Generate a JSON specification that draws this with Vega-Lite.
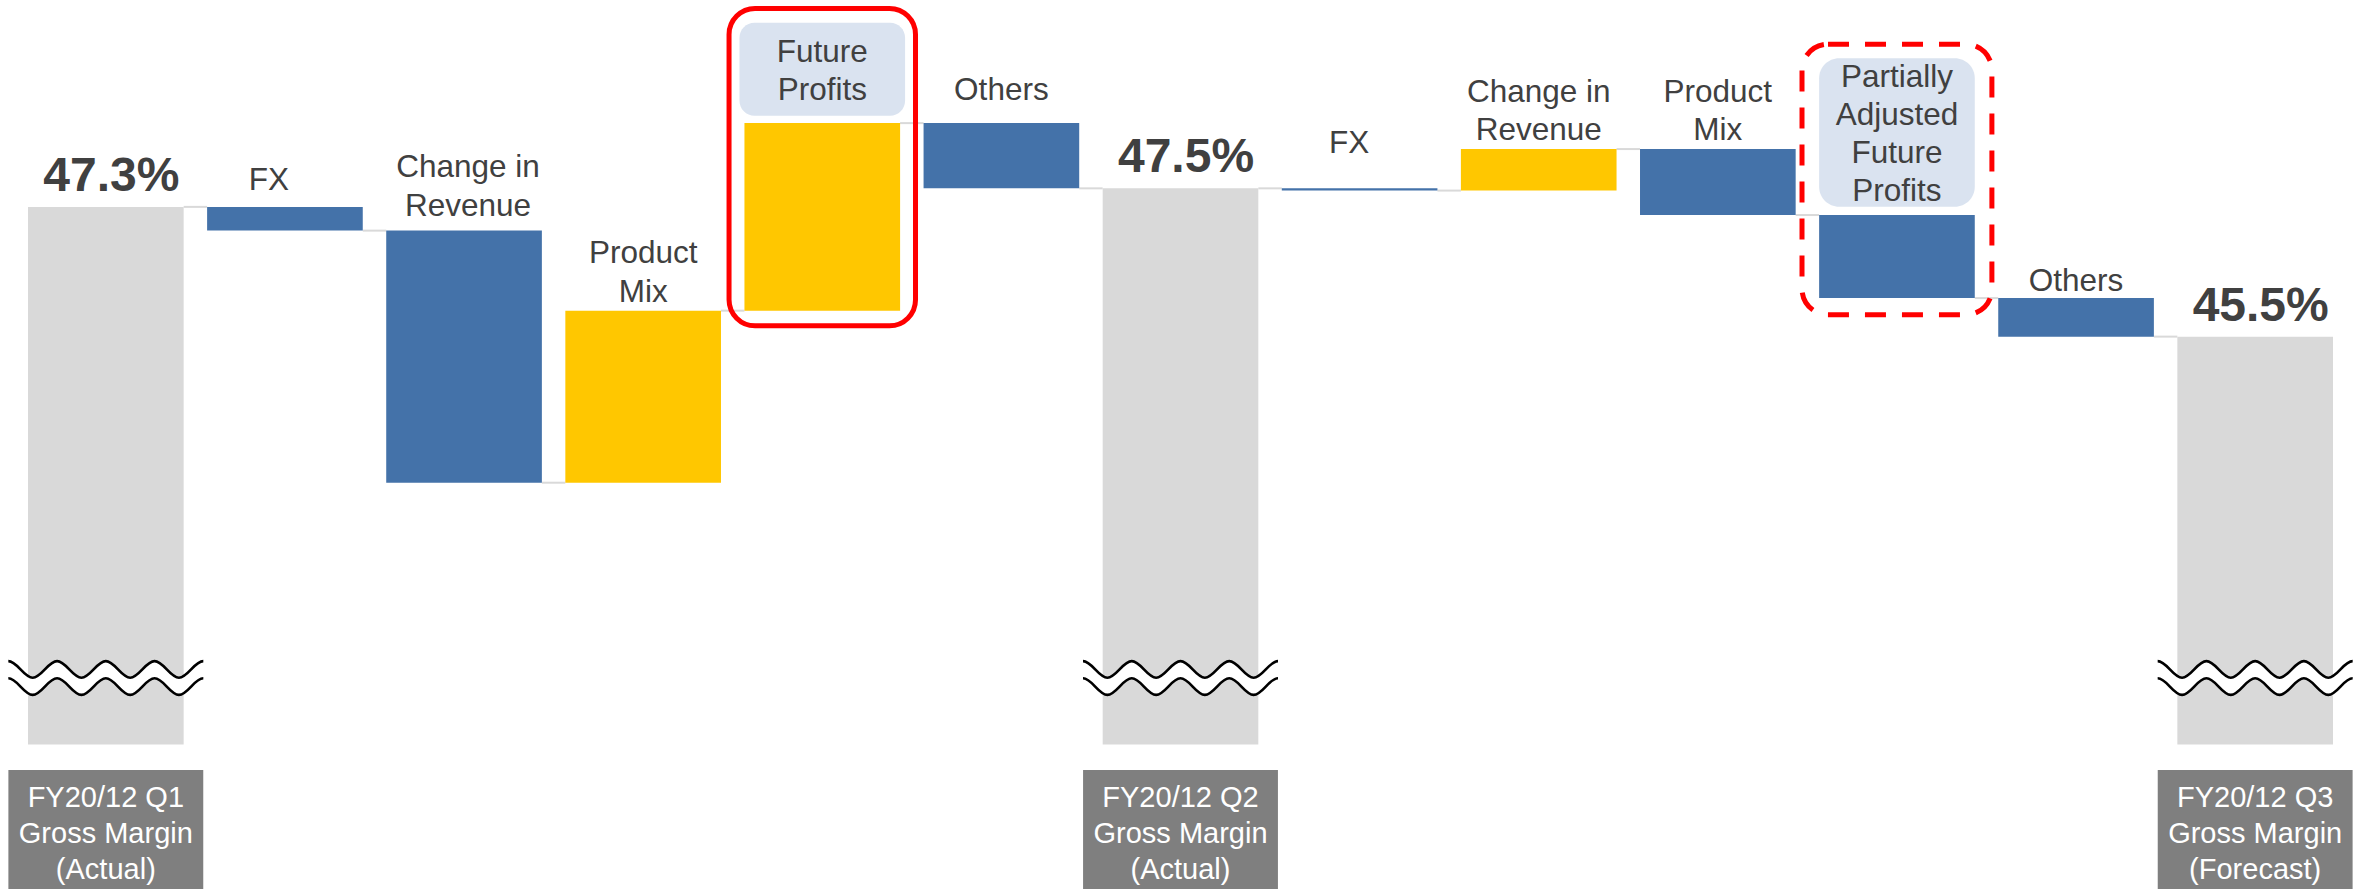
{
  "$schema": "https://vega.github.io/schema/vega-lite/v6.json",
  "width": 2305,
  "height": 886,
  "autosize": {"type": "none"},
  "padding": {"left": 28, "top": 3, "right": 33, "bottom": 0},
  "background": "white",
  "config": {"view": {"stroke": null}, "text": {"font": "Liberation Sans"}},
  "data": {
    "values": [
      {"id": "q1", "name": "FY20/12 Q1\nGross Margin\n(Actual)", "kind": "total", "start": 40, "end": 47.25, "valueLabel": "47.3%", "next": "fx1"},
      {"id": "fx1", "name": "FX", "kind": "down", "start": 47.25, "end": 46.93, "next": "rev1"},
      {"id": "rev1", "name": "Change in\nRevenue", "kind": "down", "start": 46.93, "end": 43.53, "next": "mix1"},
      {"id": "mix1", "name": "Product\nMix", "kind": "up", "start": 43.53, "end": 45.85, "next": "fp"},
      {"id": "fp", "name": "Future\nProfits", "kind": "up", "start": 45.85, "end": 48.38, "next": "oth1"},
      {"id": "oth1", "name": "Others", "kind": "down", "start": 48.38, "end": 47.5, "next": "q2"},
      {"id": "q2", "name": "FY20/12 Q2\nGross Margin\n(Actual)", "kind": "total", "start": 40, "end": 47.5, "valueLabel": "47.5%", "next": "fx2"},
      {"id": "fx2", "name": "FX", "kind": "down", "start": 47.5, "end": 47.47, "next": "rev2"},
      {"id": "rev2", "name": "Change in\nRevenue", "kind": "up", "start": 47.47, "end": 48.03, "next": "mix2"},
      {"id": "mix2", "name": "Product\nMix", "kind": "down", "start": 48.03, "end": 47.14, "next": "pafp"},
      {"id": "pafp", "name": "Partially\nAdjusted\nFuture\nProfits", "kind": "down", "start": 47.14, "end": 46.02, "next": "oth2"},
      {"id": "oth2", "name": "Others", "kind": "down", "start": 46.02, "end": 45.5, "next": "q3"},
      {"id": "q3", "name": "FY20/12 Q3\nGross Margin\n(Forecast)", "kind": "total", "start": 40, "end": 45.5, "valueLabel": "45.5%"}
    ]
  },
  "layer": [
    {
      "transform": [{"filter": "datum.next"}],
      "mark": {"type": "rule", "color": "#D9D9D9", "strokeWidth": 2},
      "encoding": {
        "x": {"field": "id", "type": "nominal", "bandPosition": 1, "scale": {"type": "band", "domain": ["q1","fx1","rev1","mix1","fp","oth1","q2","fx2","rev2","mix2","pafp","oth2","q3"], "paddingInner": 0.131, "paddingOuter": 0}, "axis": null},
        "x2": {"field": "next", "bandPosition": 0},
        "y": {"field": "end", "type": "quantitative", "scale": {"domain": [38.05, 50], "nice": false, "zero": false}, "axis": null}
      }
    },
    {
      "mark": {"type": "bar"},
      "encoding": {
        "x": {"field": "id", "type": "nominal", "scale": {"type": "band", "domain": ["q1","fx1","rev1","mix1","fp","oth1","q2","fx2","rev2","mix2","pafp","oth2","q3"], "paddingInner": 0.131, "paddingOuter": 0}, "axis": null},
        "y": {"field": "start", "type": "quantitative", "scale": {"domain": [38.05, 50], "nice": false, "zero": false}, "axis": null},
        "y2": {"field": "end"},
        "color": {"field": "kind", "type": "nominal", "scale": {"domain": ["total", "up", "down"], "range": ["#D9D9D9", "#FFC700", "#4472A9"]}, "legend": null}
      }
    },
    {
      "transform": [{"filter": "datum.kind == 'total'"}],
      "mark": {"type": "point", "shape": "M -1 -0.173 C -0.909 -0.173 -0.841 -0.003 -0.75 -0.003 C -0.659 -0.003 -0.591 -0.173 -0.5 -0.173 C -0.409 -0.173 -0.341 -0.003 -0.25 -0.003 C -0.159 -0.003 -0.091 -0.173 0 -0.173 C 0.091 -0.173 0.159 -0.003 0.25 -0.003 C 0.341 -0.003 0.409 -0.173 0.5 -0.173 C 0.591 -0.173 0.659 -0.003 0.75 -0.003 C 0.841 -0.003 0.909 -0.173 1 -0.173 L 1 0.003 C 0.909 0.003 0.841 0.173 0.75 0.173 C 0.659 0.173 0.591 0.003 0.5 0.003 C 0.409 0.003 0.341 0.173 0.25 0.173 C 0.159 0.173 0.091 0.003 0 0.003 C -0.091 0.003 -0.159 0.173 -0.25 0.173 C -0.341 0.173 -0.409 0.003 -0.5 0.003 C -0.591 0.003 -0.659 0.173 -0.75 0.173 C -0.841 0.173 -0.909 0.003 -1 0.003 Z", "size": 38025, "filled": true, "color": "#FFFFFF", "opacity": 1, "strokeWidth": 0},
      "encoding": {
        "x": {"field": "id", "type": "nominal", "scale": {"type": "band", "domain": ["q1","fx1","rev1","mix1","fp","oth1","q2","fx2","rev2","mix2","pafp","oth2","q3"], "paddingInner": 0.131, "paddingOuter": 0}, "axis": null},
        "y": {"datum": 40.896, "type": "quantitative", "scale": {"domain": [38.05, 50], "nice": false, "zero": false}, "axis": null}
      }
    },
    {
      "transform": [{"filter": "datum.kind == 'total'"}],
      "mark": {"type": "point", "shape": "M -1 -0.173 C -0.909 -0.173 -0.841 -0.003 -0.75 -0.003 C -0.659 -0.003 -0.591 -0.173 -0.5 -0.173 C -0.409 -0.173 -0.341 -0.003 -0.25 -0.003 C -0.159 -0.003 -0.091 -0.173 0 -0.173 C 0.091 -0.173 0.159 -0.003 0.25 -0.003 C 0.341 -0.003 0.409 -0.173 0.5 -0.173 C 0.591 -0.173 0.659 -0.003 0.75 -0.003 C 0.841 -0.003 0.909 -0.173 1 -0.173 M -1 0.003 C -0.909 0.003 -0.841 0.173 -0.75 0.173 C -0.659 0.173 -0.591 0.003 -0.5 0.003 C -0.409 0.003 -0.341 0.173 -0.25 0.173 C -0.159 0.173 -0.091 0.003 0 0.003 C 0.091 0.003 0.159 0.173 0.25 0.173 C 0.341 0.173 0.409 0.003 0.5 0.003 C 0.591 0.003 0.659 0.173 0.75 0.173 C 0.841 0.173 0.909 0.003 1 0.003", "size": 38025, "filled": false, "color": "#000000", "opacity": 1, "strokeWidth": 2.6},
      "encoding": {
        "x": {"field": "id", "type": "nominal", "scale": {"type": "band", "domain": ["q1","fx1","rev1","mix1","fp","oth1","q2","fx2","rev2","mix2","pafp","oth2","q3"], "paddingInner": 0.131, "paddingOuter": 0}, "axis": null},
        "y": {"datum": 40.896, "type": "quantitative", "scale": {"domain": [38.05, 50], "nice": false, "zero": false}, "axis": null}
      }
    },
    {
      "transform": [{"filter": "datum.kind == 'total'"}],
      "mark": {"type": "bar", "width": {"band": 1.252}, "color": "#7F7F7F"},
      "encoding": {
        "x": {"field": "id", "type": "nominal", "scale": {"type": "band", "domain": ["q1","fx1","rev1","mix1","fp","oth1","q2","fx2","rev2","mix2","pafp","oth2","q3"], "paddingInner": 0.131, "paddingOuter": 0}, "axis": null},
        "y": {"datum": 39.655, "type": "quantitative", "scale": {"domain": [38.05, 50], "nice": false, "zero": false}, "axis": null},
        "y2": {"datum": 38.05}
      }
    },
    {
      "transform": [{"filter": "datum.kind == 'total'"}],
      "mark": {"type": "text", "color": "#FFFFFF", "fontSize": 29, "lineHeight": 36, "baseline": "top", "dy": 14, "align": "center", "lineBreak": "\n"},
      "encoding": {
        "x": {"field": "id", "type": "nominal", "scale": {"type": "band", "domain": ["q1","fx1","rev1","mix1","fp","oth1","q2","fx2","rev2","mix2","pafp","oth2","q3"], "paddingInner": 0.131, "paddingOuter": 0}, "axis": null},
        "y": {"datum": 39.655, "type": "quantitative", "scale": {"domain": [38.05, 50], "nice": false, "zero": false}, "axis": null},
        "text": {"field": "name", "type": "nominal"}
      }
    },
    {
      "transform": [{"filter": "datum.kind == 'total'"}],
      "mark": {"type": "text", "color": "#404040", "fontSize": 48, "fontWeight": "bold", "baseline": "alphabetic", "dy": -16, "dx": 5.5, "align": "center"},
      "encoding": {
        "x": {"field": "id", "type": "nominal", "scale": {"type": "band", "domain": ["q1","fx1","rev1","mix1","fp","oth1","q2","fx2","rev2","mix2","pafp","oth2","q3"], "paddingInner": 0.131, "paddingOuter": 0}, "axis": null},
        "y": {"field": "end", "type": "quantitative", "scale": {"domain": [38.05, 50], "nice": false, "zero": false}, "axis": null},
        "text": {"field": "valueLabel", "type": "nominal"}
      }
    },
    {
      "transform": [{"filter": "datum.id == 'fp'"}],
      "mark": {"type": "bar", "width": {"band": 1.064}, "cornerRadius": 15, "color": "#DAE3F0"},
      "encoding": {
        "x": {"field": "id", "type": "nominal", "scale": {"type": "band", "domain": ["q1","fx1","rev1","mix1","fp","oth1","q2","fx2","rev2","mix2","pafp","oth2","q3"], "paddingInner": 0.131, "paddingOuter": 0}, "axis": null},
        "y": {"datum": 49.734, "type": "quantitative", "scale": {"domain": [38.05, 50], "nice": false, "zero": false}, "axis": null},
        "y2": {"datum": 48.48}
      }
    },
    {
      "transform": [{"filter": "datum.id == 'pafp'"}],
      "mark": {"type": "bar", "width": {"band": 1.0}, "cornerRadius": 20, "color": "#DAE3F0"},
      "encoding": {
        "x": {"field": "id", "type": "nominal", "scale": {"type": "band", "domain": ["q1","fx1","rev1","mix1","fp","oth1","q2","fx2","rev2","mix2","pafp","oth2","q3"], "paddingInner": 0.131, "paddingOuter": 0}, "axis": null},
        "y": {"datum": 49.254, "type": "quantitative", "scale": {"domain": [38.05, 50], "nice": false, "zero": false}, "axis": null},
        "y2": {"datum": 47.253}
      }
    },
    {
      "transform": [{"filter": "datum.id == 'fp'"}],
      "mark": {"type": "bar", "width": {"band": 1.198}, "cornerRadius": 26, "color": "#FF0000", "fillOpacity": 0, "stroke": "#FF0000", "strokeWidth": 5},
      "encoding": {
        "x": {"field": "id", "type": "nominal", "scale": {"type": "band", "domain": ["q1","fx1","rev1","mix1","fp","oth1","q2","fx2","rev2","mix2","pafp","oth2","q3"], "paddingInner": 0.131, "paddingOuter": 0}, "axis": null},
        "y": {"datum": 49.926, "type": "quantitative", "scale": {"domain": [38.05, 50], "nice": false, "zero": false}, "axis": null},
        "y2": {"datum": 45.646}
      }
    },
    {
      "transform": [{"filter": "datum.id == 'pafp'"}],
      "mark": {"type": "bar", "width": {"band": 1.22}, "cornerRadius": 26, "color": "#FF0000", "fillOpacity": 0, "stroke": "#FF0000", "strokeWidth": 5, "strokeDash": [21, 16]},
      "encoding": {
        "x": {"field": "id", "type": "nominal", "scale": {"type": "band", "domain": ["q1","fx1","rev1","mix1","fp","oth1","q2","fx2","rev2","mix2","pafp","oth2","q3"], "paddingInner": 0.131, "paddingOuter": 0}, "axis": null},
        "y": {"datum": 49.444, "type": "quantitative", "scale": {"domain": [38.05, 50], "nice": false, "zero": false}, "axis": null},
        "y2": {"datum": 45.794}
      }
    },
    {
      "transform": [{"filter": "datum.id == 'fp'"}],
      "mark": {"type": "text", "color": "#404040", "fontSize": 31.5, "lineHeight": 38, "baseline": "middle", "dy": -16.5, "align": "center", "lineBreak": "\n"},
      "encoding": {
        "x": {"field": "id", "type": "nominal", "scale": {"type": "band", "domain": ["q1","fx1","rev1","mix1","fp","oth1","q2","fx2","rev2","mix2","pafp","oth2","q3"], "paddingInner": 0.131, "paddingOuter": 0}, "axis": null},
        "y": {"datum": 49.107, "type": "quantitative", "scale": {"domain": [38.05, 50], "nice": false, "zero": false}, "axis": null},
        "text": {"field": "name", "type": "nominal"}
      }
    },
    {
      "transform": [{"filter": "datum.id == 'pafp'"}],
      "mark": {"type": "text", "color": "#404040", "fontSize": 31.5, "lineHeight": 38, "baseline": "middle", "dy": -54.5, "align": "center", "lineBreak": "\n"},
      "encoding": {
        "x": {"field": "id", "type": "nominal", "scale": {"type": "band", "domain": ["q1","fx1","rev1","mix1","fp","oth1","q2","fx2","rev2","mix2","pafp","oth2","q3"], "paddingInner": 0.131, "paddingOuter": 0}, "axis": null},
        "y": {"datum": 48.2535, "type": "quantitative", "scale": {"domain": [38.05, 50], "nice": false, "zero": false}, "axis": null},
        "text": {"field": "name", "type": "nominal"}
      }
    },
    {
      "transform": [{"filter": "datum.id == 'mix2'"}],
      "mark": {"type": "text", "color": "#404040", "fontSize": 31.5, "lineHeight": 38.5, "baseline": "bottom", "dy": -40.5, "align": "center", "lineBreak": "\n"},
      "encoding": {
        "x": {"field": "id", "type": "nominal", "scale": {"type": "band", "domain": ["q1","fx1","rev1","mix1","fp","oth1","q2","fx2","rev2","mix2","pafp","oth2","q3"], "paddingInner": 0.131, "paddingOuter": 0}, "axis": null},
        "y": {"field": "start", "type": "quantitative", "scale": {"domain": [38.05, 50], "nice": false, "zero": false}, "axis": null},
        "text": {"field": "name", "type": "nominal"}
      }
    },
    {
      "transform": [{"filter": "datum.id == 'oth2'"}],
      "mark": {"type": "text", "color": "#404040", "fontSize": 31.5, "lineHeight": 38.5, "baseline": "bottom", "dy": 0, "align": "center", "lineBreak": "\n"},
      "encoding": {
        "x": {"field": "id", "type": "nominal", "scale": {"type": "band", "domain": ["q1","fx1","rev1","mix1","fp","oth1","q2","fx2","rev2","mix2","pafp","oth2","q3"], "paddingInner": 0.131, "paddingOuter": 0}, "axis": null},
        "y": {"field": "start", "type": "quantitative", "scale": {"domain": [38.05, 50], "nice": false, "zero": false}, "axis": null},
        "text": {"field": "name", "type": "nominal"}
      }
    },
    {
      "transform": [{"filter": "datum.id == 'rev1'"}],
      "mark": {"type": "text", "color": "#404040", "fontSize": 31.5, "lineHeight": 39, "baseline": "bottom", "dy": -47, "dx": 4, "align": "center", "lineBreak": "\n"},
      "encoding": {
        "x": {"field": "id", "type": "nominal", "scale": {"type": "band", "domain": ["q1","fx1","rev1","mix1","fp","oth1","q2","fx2","rev2","mix2","pafp","oth2","q3"], "paddingInner": 0.131, "paddingOuter": 0}, "axis": null},
        "y": {"field": "start", "type": "quantitative", "scale": {"domain": [38.05, 50], "nice": false, "zero": false}, "axis": null},
        "text": {"field": "name", "type": "nominal"}
      }
    },
    {
      "transform": [{"filter": "datum.id == 'oth1'"}],
      "mark": {"type": "text", "color": "#404040", "fontSize": 31.5, "lineHeight": 38.5, "baseline": "bottom", "dy": -16, "align": "center", "lineBreak": "\n"},
      "encoding": {
        "x": {"field": "id", "type": "nominal", "scale": {"type": "band", "domain": ["q1","fx1","rev1","mix1","fp","oth1","q2","fx2","rev2","mix2","pafp","oth2","q3"], "paddingInner": 0.131, "paddingOuter": 0}, "axis": null},
        "y": {"field": "start", "type": "quantitative", "scale": {"domain": [38.05, 50], "nice": false, "zero": false}, "axis": null},
        "text": {"field": "name", "type": "nominal"}
      }
    },
    {
      "transform": [{"filter": "datum.id == 'fx1'"}],
      "mark": {"type": "text", "color": "#404040", "fontSize": 31.5, "lineHeight": 38.5, "baseline": "bottom", "dy": -10, "dx": -16, "align": "center", "lineBreak": "\n"},
      "encoding": {
        "x": {"field": "id", "type": "nominal", "scale": {"type": "band", "domain": ["q1","fx1","rev1","mix1","fp","oth1","q2","fx2","rev2","mix2","pafp","oth2","q3"], "paddingInner": 0.131, "paddingOuter": 0}, "axis": null},
        "y": {"field": "start", "type": "quantitative", "scale": {"domain": [38.05, 50], "nice": false, "zero": false}, "axis": null},
        "text": {"field": "name", "type": "nominal"}
      }
    },
    {
      "transform": [{"filter": "datum.id == 'fx2'"}],
      "mark": {"type": "text", "color": "#404040", "fontSize": 31.5, "lineHeight": 38.5, "baseline": "bottom", "dy": -28, "dx": -10.5, "align": "center", "lineBreak": "\n"},
      "encoding": {
        "x": {"field": "id", "type": "nominal", "scale": {"type": "band", "domain": ["q1","fx1","rev1","mix1","fp","oth1","q2","fx2","rev2","mix2","pafp","oth2","q3"], "paddingInner": 0.131, "paddingOuter": 0}, "axis": null},
        "y": {"field": "start", "type": "quantitative", "scale": {"domain": [38.05, 50], "nice": false, "zero": false}, "axis": null},
        "text": {"field": "name", "type": "nominal"}
      }
    },
    {
      "transform": [{"filter": "datum.id == 'mix1' || datum.id == 'rev2'"}],
      "mark": {"type": "text", "color": "#404040", "fontSize": 31.5, "lineHeight": 38.5, "baseline": "bottom", "dy": -40.5, "align": "center", "lineBreak": "\n"},
      "encoding": {
        "x": {"field": "id", "type": "nominal", "scale": {"type": "band", "domain": ["q1","fx1","rev1","mix1","fp","oth1","q2","fx2","rev2","mix2","pafp","oth2","q3"], "paddingInner": 0.131, "paddingOuter": 0}, "axis": null},
        "y": {"field": "end", "type": "quantitative", "scale": {"domain": [38.05, 50], "nice": false, "zero": false}, "axis": null},
        "text": {"field": "name", "type": "nominal"}
      }
    }
  ]
}
